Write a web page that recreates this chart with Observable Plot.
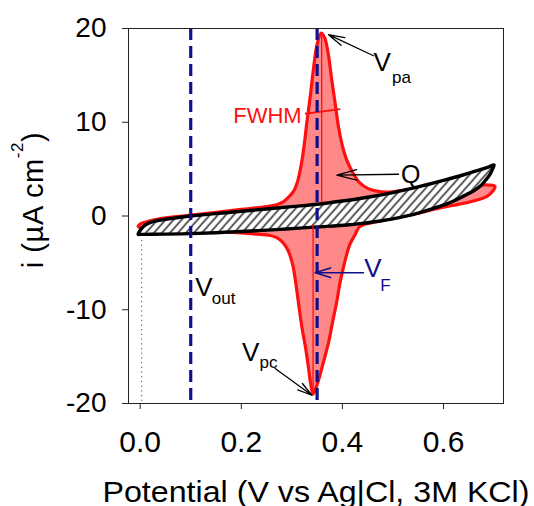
<!DOCTYPE html>
<html><head><meta charset="utf-8">
<script src="https://cdn.jsdelivr.net/npm/d3@7"></script>
<script src="https://cdn.jsdelivr.net/npm/@observablehq/plot@0.6"></script>
<style>
html,body{margin:0;padding:0;background:#fff;}
#chart svg{display:block;}
</style>
</head><body><div id="chart"></div>
<script>
// ---- axes ----
const xTicks = [0, 0.2, 0.4, 0.6];
const yTicks = [-20, -10, 0, 10, 20];
const xDomain = [-0.0231, 0.7187];
const yDomain = [-20, 20];
const xTitle = "Potential (V vs Ag|Cl, 3M KCl)";
const yTitle = "i (µA cm";
const yTitleSup = "-2";
const yTitleEnd = ")";

// ---- background (black) CV: forward branch then reverse branch ----
const blackFwdV = [-0.004, -0.001, 0.005, 0.012, 0.025, 0.05, 0.1, 0.15, 0.2, 0.25, 0.3, 0.35, 0.4, 0.45, 0.5, 0.55, 0.6, 0.64, 0.67, 0.69, 0.700];
const blackFwdI = [-1.95, -1.6, -1.2, -0.9, -0.6, -0.35, 0.0, 0.25, 0.5, 0.75, 1.0, 1.25, 1.6, 2.0, 2.5, 3.1, 3.8, 4.4, 4.9, 5.25, 5.45];
const blackRevV = [0.697, 0.692, 0.683, 0.673, 0.66, 0.646, 0.62, 0.6, 0.574, 0.541, 0.5, 0.475, 0.44, 0.409, 0.35, 0.3, 0.277, 0.2, 0.15, 0.1, 0.05, 0.02, 0.0];
const blackRevI = [5.0, 4.45, 3.8, 3.2, 2.7, 2.3, 1.6, 1.15, 0.71, 0.18, -0.3, -0.53, -0.78, -0.96, -1.17, -1.35, -1.43, -1.65, -1.78, -1.88, -1.93, -1.95, -1.96];

// ---- faradaic (red) CV ----
const redFwdV = [-0.004, 0.0, 0.02, 0.05, 0.1, 0.15, 0.2, 0.25, 0.27, 0.283, 0.293, 0.303, 0.312, 0.32, 0.325, 0.33, 0.337, 0.343, 0.35, 0.358, 0.365, 0.372, 0.379, 0.386, 0.392, 0.399, 0.407, 0.415, 0.425, 0.435, 0.45, 0.468, 0.49, 0.52, 0.56, 0.6, 0.64, 0.67, 0.69, 0.702];
const redFwdI = [-1.1, -0.85, -0.5, -0.2, 0.1, 0.4, 0.7, 1.0, 1.2, 1.5, 2.0, 2.6, 3.8, 5.9, 7.8, 10.1, 13.0, 15.8, 18.3, 19.5, 19.0, 17.3, 14.5, 11.9, 9.6, 7.7, 6.2, 5.2, 4.2, 3.5, 2.95, 2.65, 2.55, 2.75, 3.0, 3.15, 3.25, 3.3, 3.3, 3.15];
const redRevV = [0.698, 0.686, 0.666, 0.646, 0.62, 0.6, 0.58, 0.55, 0.5, 0.46, 0.435, 0.425, 0.415, 0.408, 0.402, 0.395, 0.389, 0.381, 0.373, 0.364, 0.356, 0.348, 0.342, 0.337, 0.333, 0.327, 0.32, 0.315, 0.31, 0.303, 0.297, 0.29, 0.28, 0.27, 0.255, 0.237, 0.211, 0.15, 0.1, 0.05, 0.02, 0.005];
const redRevI = [2.7, 2.1, 1.7, 1.42, 1.15, 0.95, 0.7, 0.3, -0.25, -0.7, -1.1, -2.0, -3.0, -4.2, -5.5, -7.2, -9.1, -11.2, -13.4, -15.3, -16.9, -18.3, -19.0, -17.8, -16.2, -14.0, -11.9, -10.0, -8.0, -5.5, -4.3, -3.4, -2.7, -2.3, -2.05, -1.96, -1.85, -1.65, -1.7, -1.7, -1.5, -1.3];

// ---- reference potentials (dashed) ----
const refPotentials = [0.1, 0.35];        // V_out, V_F
const baselineMarkV = [0.003];           // dotted start marker
const baselineMarkTop = [-2.6];

// ---- peak height markers and FWHM ----
const peakMarkV = [0.359, 0.342];
const peakMarkFrom = [1.4, -0.9];
const peakMarkTo = [19.2, -18.9];
const fwhmV = [0.326, 0.396];
const fwhmI = [10.9, 11.4];

// ---- annotation arrows (tail -> tip) ----
const arrowNames = ["Vpa", "Q", "Vpc", "VF"];
const arrowTailV = [0.4615, 0.511, 0.267, 0.4417];
const arrowTailI = [17.09, 4.455, -16.27, -6.06];
const arrowTipV = [0.3725, 0.389, 0.3397, 0.3462];
const arrowTipI = [19.34, 4.35, -19.12, -6.06];

// ---- annotation labels ----
const labelText = ["V", "V", "V", "V", "Q", "FWHM"];
const labelV = [0.4615, 0.2012, 0.1088, 0.4431, 0.5157, 0.184];
const labelI = [15.49, -15.42, -8.55, -6.52, 3.56, 9.97];
const subText = ["pa", "pc", "out", "F"];
const subV = [0.4982, 0.236, 0.1418, 0.4748];
const subI = [14.21, -16.24, -9.43, -8.01];

// ---- build tables ----
const pts = (V, I) => V.map((v, k) => ({v, i: I[k]}));
const blackLoop = [...pts(blackFwdV, blackFwdI), ...pts(blackRevV, blackRevI)];
const redLoop = [...pts(redFwdV, redFwdI), ...pts(redRevV, redRevI)];
const arrows = arrowNames.map((n, k) => ({n, x1: arrowTailV[k], y1: arrowTailI[k], x2: arrowTipV[k], y2: arrowTipI[k]}));
const labels = labelText.map((t, k) => ({t, v: labelV[k], i: labelI[k], k}));
const subs = subText.map((t, k) => ({t, v: subV[k], i: subI[k], k}));
const peakMarks = peakMarkV.map((v, k) => ({v, a: peakMarkFrom[k], b: peakMarkTo[k]}));

const NAVY = "#10108a";
const RED = "#ff1010";
const FONT = "'Liberation Sans', Arial, Helvetica, sans-serif";

const svg = Plot.plot({
  width: 534,
  height: 506,
  marginLeft: 128,
  marginRight: 31,
  marginTop: 28,
  marginBottom: 103,
  style: {fontFamily: FONT, fontSize: "27px", background: "white", color: "black"},
  x: {domain: xDomain, label: null},
  y: {domain: yDomain, label: null},
  marks: [
    Plot.line(redLoop, {x: "v", y: "i", curve: "catmull-rom-closed", fill: "url(#reddots)", stroke: "none"}),
    Plot.line(redLoop, {x: "v", y: "i", curve: "catmull-rom-closed", stroke: RED, strokeWidth: 3.2}),
    Plot.line(blackLoop, {x: "v", y: "i", curve: "catmull-rom-closed", fill: "url(#hatch)", stroke: "none"}),
    Plot.line(blackLoop, {x: "v", y: "i", curve: "catmull-rom-closed", stroke: "black", strokeWidth: 3.4}),
    Plot.ruleX(peakMarks, {x: "v", y1: "a", y2: "b", stroke: RED, strokeWidth: 1.3}),
    Plot.link([0], {x1: () => fwhmV[0], y1: () => fwhmI[0], x2: () => fwhmV[1], y2: () => fwhmI[1], stroke: RED, strokeWidth: 2}),
    Plot.ruleX(baselineMarkV, {x: d => d, y1: () => baselineMarkTop[0], y2: () => yDomain[0], stroke: "#444", strokeWidth: 1, strokeDasharray: "1.2,3.5"}),
    Plot.ruleX(refPotentials, {stroke: NAVY, strokeWidth: 3.2, strokeDasharray: "12,6"}),
    Plot.arrow(arrows.filter(d => d.n !== "VF"), {x1: "x1", y1: "y1", x2: "x2", y2: "y2", stroke: "black", strokeWidth: 1.3, headAngle: 30, headLength: 26}),
    Plot.arrow(arrows.filter(d => d.n === "VF"), {x1: "x1", y1: "y1", x2: "x2", y2: "y2", stroke: NAVY, strokeWidth: 1.6, headAngle: 34, headLength: 26}),
    Plot.text(labels.filter(d => d.t === "V" && d.k !== 3), {x: "v", y: "i", text: "t", textAnchor: "start", lineAnchor: "bottom", fontSize: 26, fill: "black"}),
    Plot.text(labels.filter(d => d.k === 3), {x: "v", y: "i", text: "t", textAnchor: "start", lineAnchor: "bottom", fontSize: 26, fill: NAVY}),
    Plot.text(labels.filter(d => d.t === "Q"), {x: "v", y: "i", text: "t", textAnchor: "start", lineAnchor: "bottom", fontSize: 25, fill: "black"}),
    Plot.text(labels.filter(d => d.t === "FWHM"), {x: "v", y: "i", text: "t", textAnchor: "start", lineAnchor: "bottom", fontSize: 22, fill: RED}),
    Plot.text(subs.filter(d => d.k !== 3), {x: "v", y: "i", text: "t", textAnchor: "start", lineAnchor: "bottom", fontSize: 17, fill: "black"}),
    Plot.text(subs.filter(d => d.k === 3), {x: "v", y: "i", text: "t", textAnchor: "start", lineAnchor: "bottom", fontSize: 17, fill: NAVY}),
    Plot.frame({stroke: "#222", strokeWidth: 1}),
    Plot.axisX(xTicks, {tickSize: 6, tickPadding: 21, fontSize: 30, tickFormat: d3.format(".1f"), stroke: "#222", label: null}),
    Plot.axisY(yTicks, {tickSize: 6, tickPadding: 16, fontSize: 28, tickFormat: d => String(d), stroke: "#222", label: null}),
    Plot.text([xTitle], {frameAnchor: "bottom", dy: 98, lineAnchor: "bottom", textAnchor: "middle", fontSize: 30, fill: "black"}),
    Plot.text([yTitle], {frameAnchor: "left", dx: -95, dy: -16, rotate: -90, textAnchor: "middle", lineAnchor: "middle", fontSize: 29, fill: "black"})
  ]
});

// patterns (fills referenced above)
const s = d3.select(svg);
const defs = s.insert("defs", ":first-child");
const dots = defs.append("pattern").attr("id", "reddots").attr("patternUnits", "userSpaceOnUse").attr("width", 2).attr("height", 2);
dots.append("rect").attr("width", 2).attr("height", 2).attr("fill", "#ff6262");
dots.append("rect").attr("x", 1).attr("y", 1).attr("width", 1).attr("height", 1).attr("fill", "white");
const hatch = defs.append("pattern").attr("id", "hatch").attr("patternUnits", "userSpaceOnUse").attr("width", 8).attr("height", 9);
hatch.append("rect").attr("width", 8).attr("height", 9).attr("fill", "white");
hatch.append("path").attr("d", "M0,9L8,0M-2,2.25L2,-2.25M6,11.25L10,6.75").attr("stroke", "black").attr("stroke-width", 1.2);

// find title text elements by content
const findText = (str) => s.selectAll("text").filter(function () { return this.textContent === str; });
const yt = findText(yTitle);
yt.attr("letter-spacing", "0.6px");
yt.append("tspan").attr("dy", -20).attr("font-size", 17).text(yTitleSup);
yt.append("tspan").attr("dy", 20).text(yTitleEnd);
findText(xTitle).attr("textLength", 427).attr("lengthAdjust", "spacingAndGlyphs");

document.getElementById("chart").appendChild(svg);
</script>
</body></html>
